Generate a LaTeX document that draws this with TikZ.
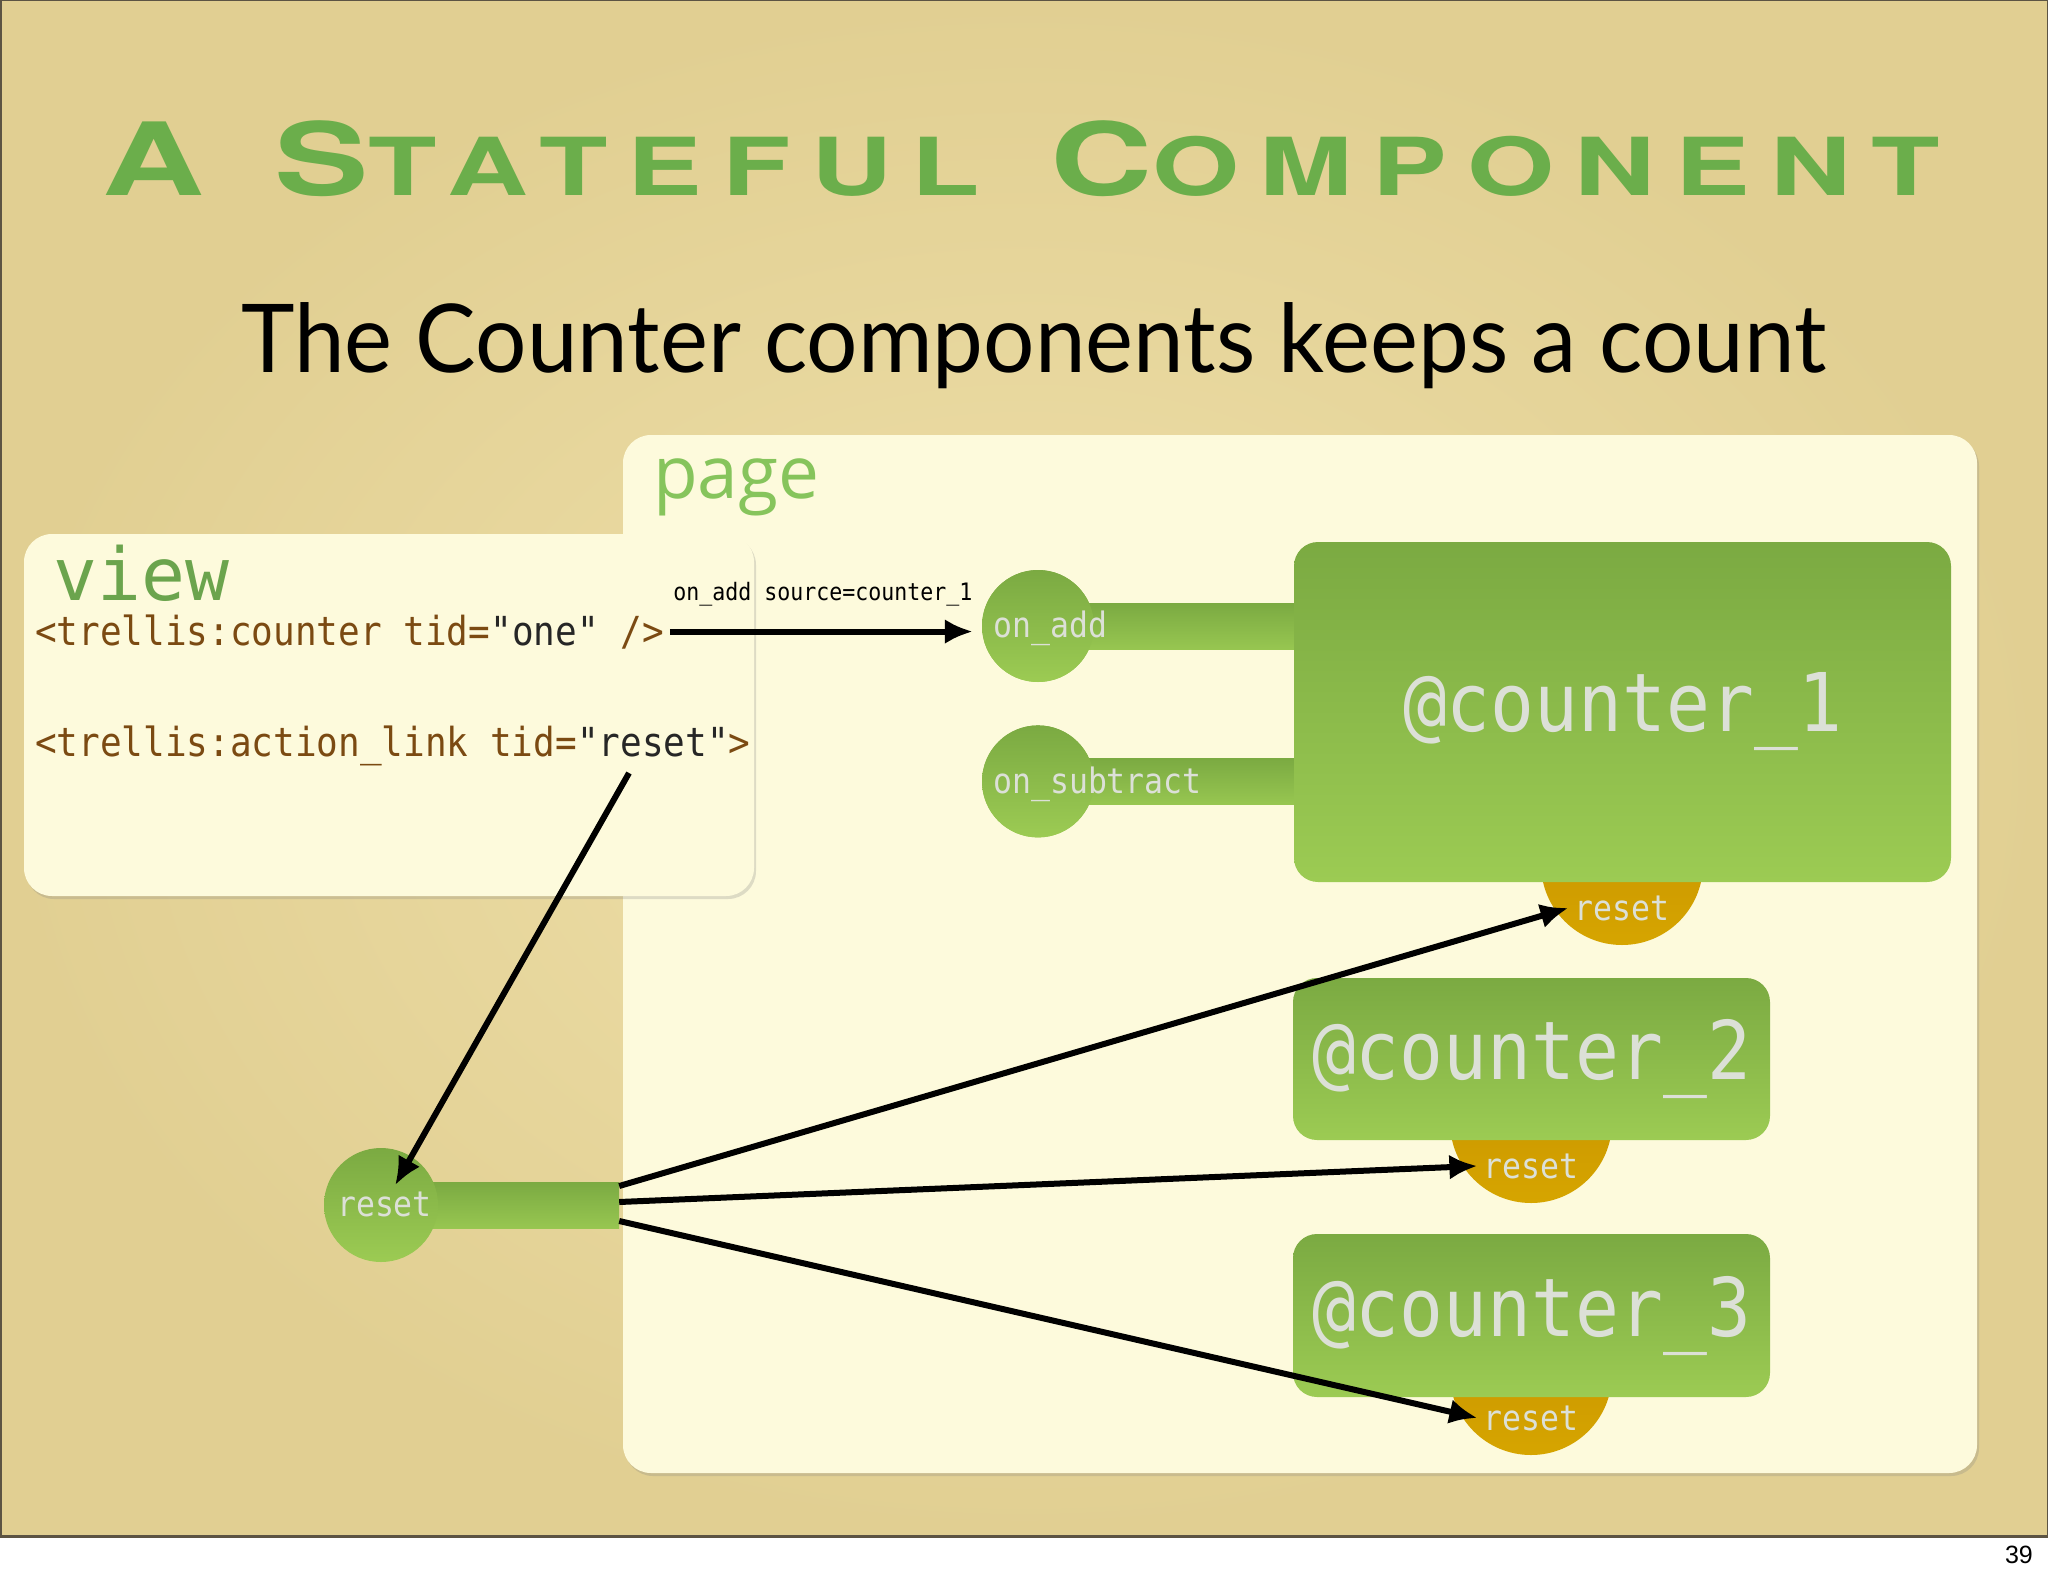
\documentclass[tikz,border=0pt]{standalone}
\usepackage{fontspec}
\usetikzlibrary{positioning,arrows.meta,shadows}
\newfontfamily\codefont{DejaVu Sans Mono}[FakeStretch=0.9]
\newfontfamily\viewfont{DejaVu Sans Mono}
\newfontfamily\pagefont{Open Sans}
\newfontfamily\titlefont{TeX Gyre Heros}[FakeStretch=1.4,LetterSpace=25]
\newfontfamily\subfont{Lato}[FakeStretch=0.955]
\newfontfamily\numfont{Liberation Sans}
\definecolor{paper}{HTML}{EFE0AA}
\definecolor{paperedge}{HTML}{E1CF92}
\definecolor{rim}{HTML}{5C5443}
\definecolor{cream}{HTML}{FDFADC}
\definecolor{leafdark}{HTML}{7BAA42}
\definecolor{leaflight}{HTML}{9CCB53}
\definecolor{golddark}{HTML}{C48F00}
\definecolor{goldlight}{HTML}{D6A500}
\definecolor{labelgrey}{HTML}{DCE0D7}
\definecolor{codebrown}{HTML}{7B4A12}
\definecolor{codedark}{HTML}{262626}
\definecolor{viewgreen}{HTML}{6BA44D}
\definecolor{pagegreen}{HTML}{86C45C}
\definecolor{titlegreen}{HTML}{6BAE4B}
\tikzset{
	frame/.style={rectangle, rounded corners=28pt, fill=cream, inner sep=0pt,
		drop shadow={opacity=0.25, shadow xshift=2pt, shadow yshift=-3pt}},
	counter/.style={rectangle, rounded corners=24pt, top color=leafdark, bottom color=leaflight,
		text=labelgrey, inner sep=0pt, font=\codefont\fontsize{81}{81}\selectfont},
	port/.style={circle, top color=leafdark, bottom color=leaflight, inner sep=0pt, minimum size=112pt},
	stem/.style={rectangle, top color=leafdark, bottom color=leaflight!85!leafdark, inner sep=0pt, minimum height=46pt},
	resetport/.style={circle, top color=golddark, bottom color=goldlight, inner sep=0pt, minimum size=162pt},
	portname/.style={text=labelgrey, inner sep=6pt, font=\codefont\fontsize{35}{35}\selectfont},
	code/.style={inner sep=0pt, anchor=base west, text=codebrown, font=\codefont\fontsize{40}{40}\selectfont},
	wire/.style={-{Latex[length=28pt,width=25pt]}, line width=6pt}
}
\begin{document}
\begin{tikzpicture}[x=1pt,y=-1pt]
	\useasboundingbox (0,0) rectangle (2048,1576);
	\shade[inner color=paper, outer color=paperedge, draw=rim, line width=3pt] (0,0) rectangle (2048,1536);
	\node[anchor=base east, inner sep=0pt, font=\numfont\fontsize{25}{25}\selectfont] (slideno) at (2033,1563) {39};

	% heading
	\node[anchor=base, inner sep=0pt, text=titlegreen, font=\titlefont\bfseries\fontsize{101}{101}\selectfont] (title) at (1021,195)
		{A\hspace{70pt}S{\fontsize{80}{80}\selectfont TATEFUL}\hspace{70pt}C{\fontsize{80}{80}\selectfont OMPONENT}};
	\node[anchor=base, inner sep=0pt, font=\subfont\fontsize{95}{95}\selectfont] (subtitle) at (1034,372) {The Counter components keeps a count};

	% page and view
	\node[frame, minimum width=1354pt, minimum height=1038pt] (page) at (1300,954) {};
	\node[anchor=base west, inner sep=0pt, text=pagegreen, font=\pagefont\fontsize{73}{73}\selectfont] (pagename) at (653,498) {page};
	\node[frame, minimum width=730pt, minimum height=362pt] (view) at (389,715) {};
	\node[anchor=base west, inner sep=0pt, text=viewgreen, font=\viewfont\fontsize{73}{73}\selectfont] (viewname) at (53,600) {view};
	\node[code] (counterline) at (35,645) {<trellis:counter tid=\textcolor{codedark}{"one"} />};
	\node[code] (linkline) at (35,756) {<trellis:action\_link tid=\textcolor{codedark}{"reset"}>};
	\coordinate (linkreset) at (629,773);

	% action link port
	\node[stem, minimum width=219pt] (lstem) at (509.5,1205) {};
	\node[port, minimum size=114pt] (lport) at (381,1205) {};
	\node[portname, anchor=base] (lreset) at (384.5,1216) {reset};

	% counter_1 ports
	\node[port] (onadd) at (1038,626) {};
	\node[port, below=43pt of onadd] (onsub) {};
	\node[stem, minimum width=258pt, anchor=west] (addstem) at (onadd.center) {};
	\node[stem, minimum width=258pt, anchor=west] (substem) at (onsub.center) {};
	\node[port] at (onadd) {};
	\node[port] at (onsub) {};
	\node[portname, anchor=base west, inner sep=0pt] (addname) at (993,637) {on\_add};
	\node[portname, anchor=base west, inner sep=0pt] (subname) at (993,793) {on\_subtract};

	% counters
	\node[resetport] (g1) at (1622,864) {};
	\node[resetport] (g2) at (1531,1122) {};
	\node[resetport] (g3) at (1531,1374) {};
	\node[counter, minimum width=657pt, minimum height=340pt] (c1) at (1622.5,712) {@counter\_1};
	\node[counter, minimum width=477pt, minimum height=162pt] (c2) at (1531.5,1059) {@counter\_2};
	\node[counter, minimum width=477pt, minimum height=163pt] (c3) at (1531.5,1315.5) {@counter\_3};
	\node[portname, anchor=base] (r1) at (1622,920) {reset};
	\node[portname, anchor=base] (r2) at (1531,1178) {reset};
	\node[portname, anchor=base] (r3) at (1531,1430) {reset};

	% wiring
	\draw[wire, shorten <=6pt, shorten >=9pt] (counterline.east) -- (counterline.east -| onadd.west)
		node[midway, above=22pt, inner sep=0pt, font=\codefont\fontsize{24}{24}\selectfont] (addlabel) {on\_add source=counter\_1};
	\draw[wire] (linkreset) -- (lreset);
	\draw[wire] ([yshift=19pt]lstem.east) -- (r1.west);
	\draw[wire] ([yshift=3pt]lstem.east) -- (r2.west);
	\draw[wire] ([yshift=-16pt]lstem.east) -- (r3.west);
\end{tikzpicture}
\end{document}
